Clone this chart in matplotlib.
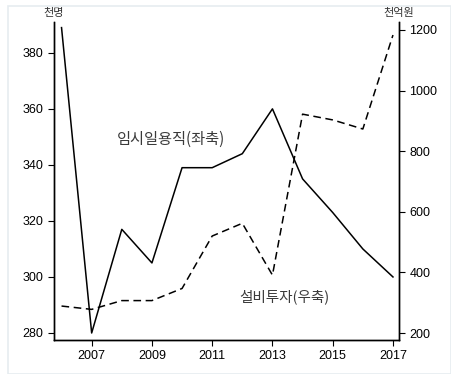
import matplotlib
matplotlib.use('Agg')
import matplotlib.pyplot as plt
from matplotlib.patches import Rectangle

plt.rcParams['font.family'] = ['Liberation Sans', 'Noto Sans CJK KR', 'DejaVu Sans']
plt.rcParams['axes.unicode_minus'] = False

years = [2006, 2007, 2008, 2009, 2010, 2011, 2012, 2013, 2014, 2015, 2016, 2017]
temp_workers = [389, 280, 317, 305, 339, 339, 344, 360, 335, 323, 310, 300]   # 천명, 좌축
facility_inv = [289, 278, 307, 307, 347, 520, 562, 391, 922, 903, 873, 1183]  # 천억원, 우축
xticks = [2007, 2009, 2011, 2013, 2015, 2017]

fig = plt.figure(figsize=(4.51, 3.74), dpi=100)
fig.patches.append(Rectangle((0.018, 0.0), 0.982, 0.985, transform=fig.transFigure,
                             fill=False, edgecolor='#e6ecf0', linewidth=1.2))
ax = fig.add_axes([54 / 451, 1 - 340 / 374, (399 - 54) / 451, (340 - 22) / 374])
ax2 = ax.twinx()

ax.plot(years, temp_workers, color='black', linewidth=1.1)
ax2.plot(years, facility_inv, color='black', linewidth=1.1, linestyle=(0, (5, 3)))

ax.set_xlim(2005.75, 2017.2)
ax.set_ylim(277.5, 391)
ax2.set_ylim(177, 1226)
ax.set_xticks(xticks)
ax.set_yticks([280, 300, 320, 340, 360, 380])
ax2.set_yticks([200, 400, 600, 800, 1000, 1200])

for a in (ax, ax2):
    a.spines['top'].set_visible(False)
    for s in a.spines.values():
        s.set_linewidth(1.0)
    a.tick_params(labelsize=9, length=4, width=0.8, direction='out')

ax.text(2009.62, 349, '임시일용직(좌축)', fontsize=11, color='#3a3a3a',
        ha='center', va='center', family=['Noto Sans CJK KR', 'DejaVu Sans'])
ax.text(2013.4, 293, '설비투자(우축)', fontsize=10.5, color='#3a3a3a',
        ha='center', va='center', family=['Noto Sans CJK KR', 'DejaVu Sans'])

fig.text(54 / 451, 1 - 13 / 374, '천명', fontsize=8, color='#333333', ha='center', va='center',
         family=['Noto Sans CJK KR', 'DejaVu Sans'])
fig.text(399 / 451, 1 - 13 / 374, '천억원', fontsize=8, color='#333333', ha='center', va='center',
         family=['Noto Sans CJK KR', 'DejaVu Sans'])

fig.savefig('out.png', dpi=100, facecolor='white')
